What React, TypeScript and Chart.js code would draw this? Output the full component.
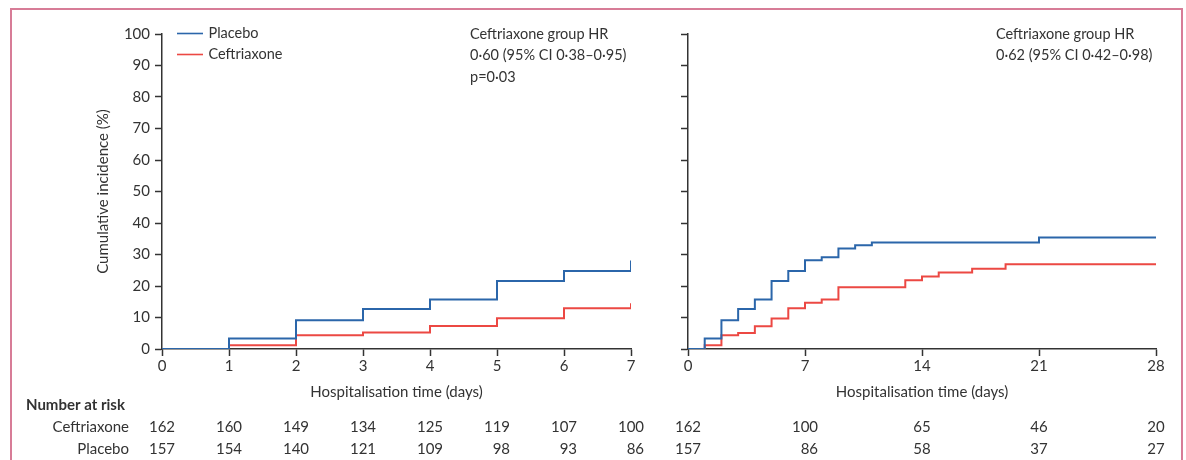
import React, { useEffect, useRef } from "react";
import { Chart, registerables } from "chart.js";

Chart.register(...registerables);

// ---------------- data ----------------
const seriesNames = ["Placebo", "Ceftriaxone"];

const leftDays = [0, 1, 2, 3, 4, 5, 6, 7];
const leftPlacebo = [0, 3.3, 9.1, 12.7, 15.7, 21.6, 24.8, 28.1];
const leftCeftriaxone = [0, 1.2, 4.35, 5.2, 7.3, 9.75, 12.9, 14.5];

const rightPlaceboDays = [0, 1, 2, 3, 4, 5, 6, 7, 8, 9, 10, 11, 21, 28];
const rightPlacebo = [0, 3.3, 9.1, 12.7, 15.7, 21.6, 24.8, 28.2, 29.1, 31.9, 32.9, 33.8, 35.4, 35.4];
const rightCeftriaxoneDays = [0, 1, 2, 3, 4, 5, 6, 7, 8, 9, 13, 14, 15, 17, 19, 28];
const rightCeftriaxone = [0, 1.2, 4.35, 5.1, 7.2, 9.7, 12.9, 14.7, 15.7, 19.6, 21.8, 23.0, 24.3, 25.5, 26.9, 26.9];

const leftRiskDays = [0, 1, 2, 3, 4, 5, 6, 7];
const leftRiskCeftriaxone = [162, 160, 149, 134, 125, 119, 107, 100];
const leftRiskPlacebo = [157, 154, 140, 121, 109, 98, 93, 86];
const rightRiskDays = [0, 7, 14, 21, 28];
const rightRiskCeftriaxone = [162, 100, 65, 46, 20];
const rightRiskPlacebo = [157, 86, 58, 37, 27];

const leftAnnotation = ["Ceftriaxone group HR", "0·60 (95% CI 0·38–0·95)", "p=0·03"];
const rightAnnotation = ["Ceftriaxone group HR", "0·62 (95% CI 0·42–0·98)"];
const xTitle = "Hospitalisation time (days)";
const yTitle = "Cumulative incidence (%)";
const riskTitle = "Number at risk";
const riskRowLabels = ["Ceftriaxone", "Placebo"];

// ---------------- styles ----------------
const FONT = "Lato";
const INK = "#333333";
const BLUE = "#2b66aa";
const RED = "#ec4843";
const FRAME = "#d77c97";

const toPoints = (xs: number[], ys: number[]) => xs.map((x, i) => ({ x, y: ys[i] }));

const textPlugin = {
  id: "kmText",
  afterDraw(chart: any, _args: any, opts: any) {
    const ctx = chart.ctx as CanvasRenderingContext2D;
    const xs = chart.scales.x;
    const area = chart.chartArea;
    ctx.save();
    ctx.fillStyle = INK;
    ctx.font = `15px ${FONT}`;
    ctx.textBaseline = "alphabetic";

    // number at risk
    const rows = [opts.ceftriaxone, opts.placebo];
    const baselines = [432, 453.5];
    opts.days.forEach((d: number, i: number) => {
      const px = xs.getPixelForValue(d);
      const labels = rows.map((r: number[]) => String(r[i]));
      const w = Math.max(...labels.map((l: string) => ctx.measureText(l).width));
      ctx.textAlign = "right";
      labels.forEach((l: string, j: number) => ctx.fillText(l, px + w / 2, baselines[j]));
    });
    if (opts.showRowLabels) {
      ctx.textAlign = "right";
      riskRowLabels.forEach((l, j) => ctx.fillText(l, 129, baselines[j]));
      ctx.font = `bold 15px ${FONT}`;
      ctx.textAlign = "left";
      ctx.fillText(riskTitle, 26, 409.5);
      ctx.font = `15px ${FONT}`;
    }

    // annotation
    ctx.font = `14.5px ${FONT}`;
    ctx.textAlign = "left";
    ctx.textBaseline = "middle";
    (opts.annotation as string[]).forEach((l, i) => ctx.fillText(l, area.left + opts.annotationDx, 34 + i * 21.5));

    // legend
    if (opts.showLegend) {
      const colors = [BLUE, RED];
      seriesNames.forEach((name, i) => {
        const y = 33.5 + i * 21;
        ctx.strokeStyle = colors[i];
        ctx.lineWidth = 1.6;
        ctx.beginPath();
        ctx.moveTo(area.left + 15, y);
        ctx.lineTo(area.left + 41, y);
        ctx.stroke();
        ctx.fillText(name, area.left + 46.5, y);
      });
    }
    ctx.restore();
  },
};

function buildConfig(p: any) {
  const font = { family: FONT, size: 15 };
  const line = (data: any, color: string, order: number) => ({
    data,
    borderColor: color,
    borderWidth: 2,
    pointRadius: 0,
    stepped: "before",
    fill: false,
    order,
  });
  return {
    type: "line",
    data: {
      datasets: [
        { label: seriesNames[1], ...line(p.ceft, RED, 2) },
        { label: seriesNames[0], ...line(p.plac, BLUE, 1) },
      ],
    },
    options: {
      responsive: false,
      animation: false,
      events: [],
      layout: { padding: { left: 0, right: p.padRight, top: 34, bottom: 0 } },
      plugins: {
        legend: { display: false },
        tooltip: { enabled: false },
        kmText: p.text,
      },
      scales: {
        x: {
          type: "linear",
          min: 0,
          max: p.xMax,
          ticks: { stepSize: p.xStep, padding: 1, font, color: INK, maxRotation: 0, autoSkip: false },
          grid: { drawOnChartArea: false, drawTicks: true, tickLength: 7, tickColor: INK, tickWidth: 1.5 },
          border: { display: true, color: INK, width: 1.5 },
          title: { display: true, text: xTitle, font, color: INK, padding: { top: 0, bottom: 59 } },
          afterFit: (s: any) => {
            s.height = 111;
          },
        },
        y: {
          type: "linear",
          min: 0,
          max: 100,
          ticks: { stepSize: 10, padding: 5, font, color: INK, display: p.yLabels },
          grid: { drawOnChartArea: false, drawTicks: true, tickLength: 7, tickColor: INK, tickWidth: 1.5 },
          border: { display: true, color: INK, width: 1.5 },
          title: { display: p.yLabels, text: yTitle, font, color: INK, padding: { top: 94.5, bottom: 0 } },
          afterFit: (s: any) => {
            s.width = p.yWidth;
          },
        },
      },
    },
    plugins: [textPlugin],
  };
}

export default function App() {
  const leftRef = useRef<HTMLCanvasElement>(null);
  const rightRef = useRef<HTMLCanvasElement>(null);

  useEffect(() => {
    const left = new Chart(
      leftRef.current as HTMLCanvasElement,
      buildConfig({
        ceft: toPoints(leftDays, leftCeftriaxone),
        plac: toPoints(leftDays, leftPlacebo),
        xMax: 7,
        xStep: 1,
        padRight: 29,
        yWidth: 162,
        yLabels: true,
        text: {
          days: leftRiskDays,
          ceftriaxone: leftRiskCeftriaxone,
          placebo: leftRiskPlacebo,
          showRowLabels: true,
          showLegend: true,
          annotation: leftAnnotation,
          annotationDx: 308,
        },
      }) as any
    );
    const right = new Chart(
      rightRef.current as HTMLCanvasElement,
      buildConfig({
        ceft: toPoints(rightCeftriaxoneDays, rightCeftriaxone),
        plac: toPoints(rightPlaceboDays, rightPlacebo),
        xMax: 28,
        xStep: 7,
        padRight: 30,
        yWidth: 28,
        yLabels: false,
        text: {
          days: rightRiskDays,
          ceftriaxone: rightRiskCeftriaxone,
          placebo: rightRiskPlacebo,
          showRowLabels: false,
          showLegend: false,
          annotation: rightAnnotation,
          annotationDx: 308,
        },
      }) as any
    );
    return () => {
      left.destroy();
      right.destroy();
    };
  }, []);

  return (
    <div
      style={{
        position: "absolute",
        left: 0,
        top: 0,
        width: 1186,
        height: 460,
        overflow: "hidden",
        background: "#ffffff",
      }}
    >
      <div
        style={{
          position: "absolute",
          left: 10,
          top: 8,
          width: 1173,
          height: 480,
          boxSizing: "border-box",
          border: `2px solid ${FRAME}`,
        }}
      />
      <canvas
        ref={leftRef}
        width={660}
        height={460}
        style={{ position: "absolute", left: 0, top: 0, width: 660, height: 460 }}
      />
      <canvas
        ref={rightRef}
        width={526}
        height={460}
        style={{ position: "absolute", left: 660, top: 0, width: 526, height: 460 }}
      />
    </div>
  );
}
